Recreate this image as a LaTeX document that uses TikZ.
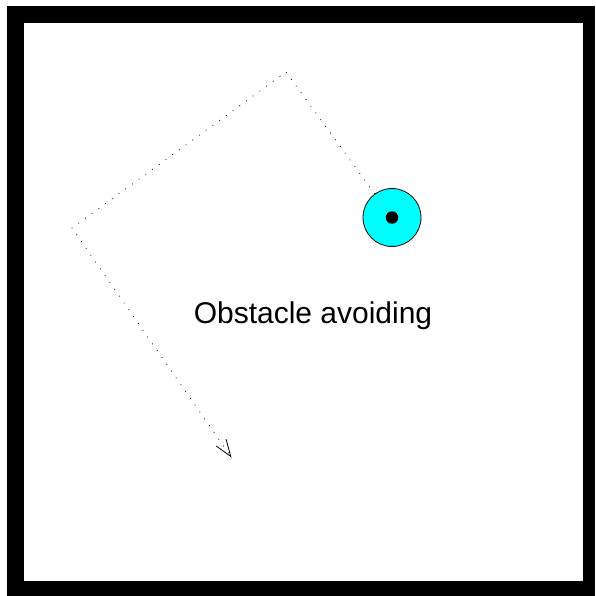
\documentclass[tikz,border=0pt]{standalone}
\usepackage{fontspec}
\setmainfont{Liberation Sans}
\usepackage{tikz}
\usetikzlibrary{arrows.meta, positioning, calc}
\definecolor{robotcyan}{RGB}{0, 255, 255}

\begin{document}
\begin{tikzpicture}[x=1pt, y=-1pt,
    frame/.style={fill=black},
    robot/.style={circle, draw=black, fill=robotcyan, line width=0.8pt, minimum size=58pt, inner sep=0pt},
    centre/.style={circle, fill=black, minimum size=12.5pt, inner sep=0pt},
    trail/.style={line width=0.8pt, dash pattern=on 0.8pt off 7.5pt, -{Straight Barb[length=17pt, width=12pt, line width=0.8pt]}},
    caption/.style={font=\fontsize{30}{36}\selectfont, anchor=base}]
  \useasboundingbox (0,0) rectangle (595,596);
  % black frame
  \fill[frame] (7,6) rectangle (595,596);
  \fill[white] (24,23) rectangle (583,581);
  % robot
  \node[robot] (robot) at (392,217.5) {};
  \node[centre] (dot) at (robot.center) {};
  % path it took
  \coordinate (turnA) at (286,72);
  \coordinate (turnB) at (72,228);
  \coordinate (goal) at (231.5,457.5);
  \draw[trail] (robot) -- (turnA) -- (turnB) -- (goal);
  \node[caption] (label) at (313,323) {Obstacle avoiding};
\end{tikzpicture}
\end{document}
